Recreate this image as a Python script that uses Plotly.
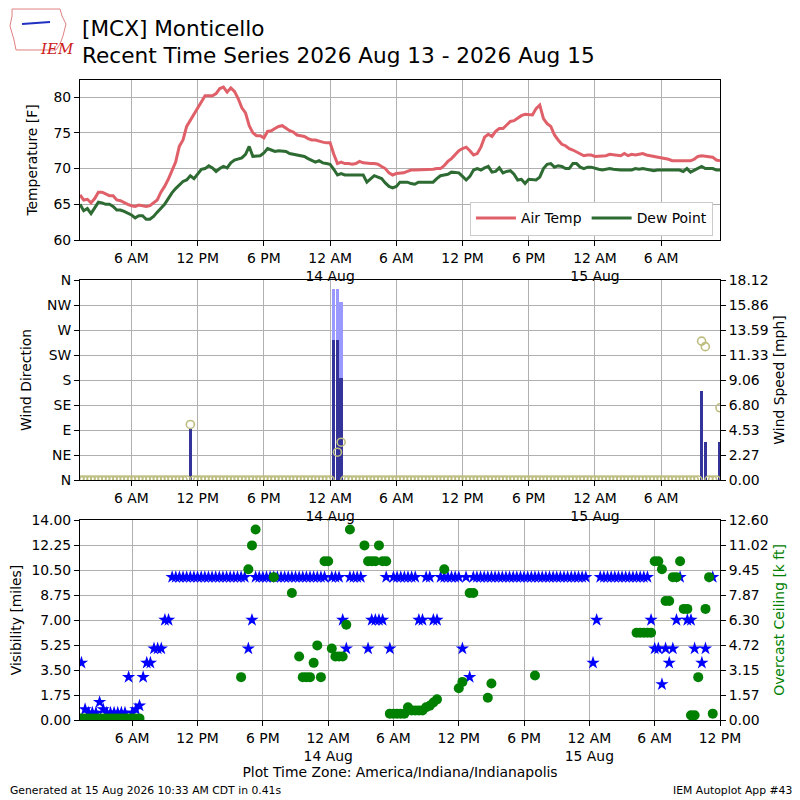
import pandas as pd
import plotly.graph_objects as go

# 观测时间  每20分钟一次
times = pd.date_range("2026-08-13 01:20", "2026-08-15 11:20", freq="20min")

air_temp = [
    66.3, 65.6, 65.7, 65.2, 65.8, 66.7, 66.7, 66.5, 66.2, 66.2,
    65.6, 65.5, 65.2, 65.0, 64.8, 64.7, 64.9, 64.8, 64.7, 64.8,
    65.2, 65.6, 66.7, 67.5, 68.5, 69.7, 70.9, 73.1, 74.0, 75.9,
    76.8, 77.6, 78.4, 79.5, 80.2, 80.2, 80.2, 80.5, 81.2, 81.4,
    80.7, 81.3, 80.8, 79.8, 78.5, 77.8, 76.0, 75.0, 74.6, 74.6,
    74.3, 75.2, 75.3, 75.6, 75.9, 76.0, 75.6, 75.3, 75.1, 74.7,
    74.6, 74.5, 74.2, 74.0, 74.0, 73.8, 73.7, 73.6, 73.6, 72.0,
    70.7, 70.9, 70.7, 70.7, 70.6, 70.7, 71.0, 70.8, 70.7, 70.7,
    70.7, 70.6, 70.3, 70.0, 69.4, 69.1, 69.3, 69.3, 69.4, 69.6,
    69.8, 69.8, 69.8, 69.8, 69.8, 69.8, 69.9, 70.0, 70.0, 70.4,
    71.0, 71.4, 72.0, 72.5, 72.8, 73.0, 72.5, 71.9, 72.1, 73.0,
    74.4, 74.8, 74.5, 75.2, 75.6, 75.6, 76.1, 76.6, 76.7, 77.1,
    77.4, 77.6, 77.6, 77.5, 78.4, 78.9, 77.0, 76.3, 75.9, 74.7,
    74.0, 73.4, 73.2, 72.8, 72.6, 72.3, 72.0, 71.8, 71.9, 71.9,
    71.7, 71.7, 71.7, 71.8, 72.0, 71.9, 71.9, 71.8, 72.1, 71.8,
    72.0, 71.9, 72.0, 72.1, 71.9, 71.8, 71.8, 71.6, 71.5, 71.4,
    71.3, 71.1, 71.1, 71.1, 71.1, 71.1, 71.1, 71.3, 71.7, 71.8,
    71.7, 71.7, 71.6, 71.2, 71.1,
]

dew_point = [
    65.0, 64.1, 64.4, 63.7, 64.5, 65.3, 65.2, 65.0, 65.0, 64.7,
    64.2, 64.2, 64.0, 63.8, 63.5, 63.1, 63.4, 63.4, 62.9, 62.9,
    63.3, 63.9, 64.5, 65.0, 65.8, 66.6, 67.2, 67.7, 68.2, 68.4,
    69.0, 68.6, 69.3, 69.9, 70.0, 70.4, 70.1, 69.6, 70.0, 70.3,
    70.1, 70.8, 71.2, 71.3, 71.5, 72.0, 73.1, 71.7, 71.7, 71.8,
    72.2, 72.8, 72.6, 72.4, 72.5, 72.5, 72.4, 72.1, 72.0, 71.8,
    71.8, 71.7, 71.4, 71.1, 70.9, 71.1, 70.8, 70.7, 70.6, 69.9,
    69.1, 69.3, 69.1, 69.1, 69.1, 69.1, 69.1, 69.1, 68.1, 68.6,
    69.0, 68.8, 68.6, 68.0, 67.5, 67.3, 67.5, 68.1, 68.1, 68.1,
    67.9, 67.8, 68.1, 68.1, 68.1, 68.1, 68.1, 68.6, 69.0, 69.1,
    69.2, 69.5, 69.5, 69.4, 68.9, 68.4, 68.9, 69.8, 70.0, 69.8,
    70.1, 70.3, 69.5, 69.6, 70.1, 69.4, 69.6, 69.7, 69.2, 68.4,
    68.5, 67.9, 68.5, 68.4, 68.4, 68.8, 70.0, 70.6, 70.7, 70.2,
    70.4, 70.3, 70.0, 70.0, 70.7, 70.7, 70.2, 70.0, 70.2, 70.2,
    70.0, 69.9, 69.8, 69.9, 70.0, 69.9, 69.8, 69.8, 69.8, 69.8,
    69.8, 70.0, 69.9, 70.0, 69.9, 69.8, 69.7, 69.8, 69.8, 69.8,
    69.8, 69.8, 69.8, 69.8, 69.6, 70.0, 69.5, 69.8, 70.1, 70.3,
    70.0, 70.0, 70.0, 69.8, 69.8,
]

# 风向 (度)  0 = 静风
wind_drct = [0] * 30 + [100] + [0] * 38 + [None, 50, 68] + [0] * 97 + [250, 240] + [0] * 3 + [130]
# 风速 / 阵风 (mph)
wind_speed = [0] * 30 + [4.6] + [0] * 38 + [12.66, 12.66, 9.21] + [0] * 97 + [8.06, 3.45] + [0] * 3 + [3.45]
wind_gust = [None] * 69 + [17.26, 17.26, 16.11] + [None] * 103

# 能见度 (miles)
visibility = (
    [4, 0.75, 0.5, 0.5, 0.5, 1.25, 0.75] + [0.5] * 6
    + [3, 0.5, 0.75, 1.0, 3, 4, 4, 5, 5, 5, 7, 7]
    + [10] * 21 + [5, 7] + [10] * 20
    + [None, 10, 10, 10, 7, 5, 10, 10, 10, 10, None, 5, 7, 7, 7, 7, 10, 5]
    + [10] * 7 + [7, 7, 10, 10, 7, 7] + [10] * 6 + [5, 10, 3]
    + [10] * 32 + [None, 4, 7] + [10] * 14
    + [7, 5, 5, 2.5, 5, 4, 5, 7, 10, None, 7, 7, 5, None, 4, 5, None, 10]
)

# 阴天云底高 (k ft)
ceiling = (
    [0.1] * 17 + [None] * 27 + [2.7, None, 9.5, 11.0, 12.0] + [None] * 4
    + [9.0] + [None] * 4 + [8.0, None]
    + [4.0, 2.7, 2.7, 2.7, 3.6, 4.7, 2.7, 10.0, 10.0, 4.5, 4.0, 4.0, 4.0, 6.0, 12.0]
    + [None] * 3 + [11.0, 10.0, 10.0, 10.0, 11.0, 10.0, 10.0]
    + [0.4] * 5 + [0.8, 0.6, 0.6, 0.6, 0.6, 0.8, 0.9, 1.1, 1.3]
    + [None, 9.5, None, None, None, 2.0, 2.4, None, 8.0, 8.0, None, None, None, 1.4, 2.3]
    + [None] * 11 + [2.8] + [None] * 27 + [5.5] * 5
    + [10.0, 10.0, 9.5, 7.5, 7.5, 9.0, 9.0, 10.0, 7.0, 7.0, 0.3, 0.3, 2.7, None, 7.0, 9.0, 0.4]
)

tick_times = ["2026-08-13 06:00", "2026-08-13 12:00", "2026-08-13 18:00", "2026-08-14 00:00",
              "2026-08-14 06:00", "2026-08-14 12:00", "2026-08-14 18:00", "2026-08-15 00:00",
              "2026-08-15 06:00", "2026-08-15 12:00"]
tick_labels = ["6 AM", "12 PM", "6 PM", "12 AM<br>14 Aug", "6 AM", "12 PM", "6 PM",
               "12 AM<br>15 Aug", "6 AM", "12 PM"]
drct_labels = ["N", "NE", "E", "SE", "S", "SW", "W", "NW", "N"]
speed_labels = ["0.00", "2.27", "4.53", "6.80", "9.06", "11.33", "13.59", "15.86", "18.12"]
vis_labels = ["0.00", "1.75", "3.50", "5.25", "7.00", "8.75", "10.50", "12.25", "14.00"]
ceil_labels = ["0.00", "1.57", "3.15", "4.72", "6.30", "7.87", "9.45", "11.02", "12.60"]

FONT = "DejaVu Sans"
GRID = "#b0b0b0"
FS = 13.9

fig = go.Figure()

# 温度 / 露点
fig.add_trace(go.Scatter(x=times, y=air_temp, mode="lines", name="Air Temp",
                         line=dict(color="#e0606a", width=3), xaxis="x", yaxis="y"))
fig.add_trace(go.Scatter(x=times, y=dew_point, mode="lines", name="Dew Point",
                         line=dict(color="#2e6b33", width=3), xaxis="x", yaxis="y"))

# 风速柱状图 + 风向
bar_w = 18 * 60 * 1000
fig.add_trace(go.Bar(x=times, y=wind_gust, width=bar_w, marker=dict(color="#9999ff", line_width=0),
                     showlegend=False, xaxis="x2", yaxis="y2"))
fig.add_trace(go.Bar(x=times, y=wind_speed, width=bar_w, marker=dict(color="#333399", line_width=0),
                     showlegend=False, xaxis="x2", yaxis="y2"))
fig.add_trace(go.Scatter(x=times, y=wind_drct, mode="markers", showlegend=False,
                         marker=dict(symbol="circle-open", size=8, color="#bdbd80", line=dict(width=1.6)),
                         xaxis="x2", yaxis="y3", cliponaxis=True))

# 能见度 + 云底高
fig.add_trace(go.Scatter(x=times, y=visibility, mode="markers", showlegend=False,
                         marker=dict(symbol="star", size=10, color="#0000ff"),
                         xaxis="x3", yaxis="y4"))
fig.add_trace(go.Scatter(x=times, y=ceiling, mode="markers", showlegend=False,
                         marker=dict(symbol="circle", size=10, color="#008000"),
                         xaxis="x3", yaxis="y5"))

axis_common = dict(showline=True, linecolor="black", linewidth=1, mirror=True,
                   ticks="outside", ticklen=5, tickcolor="black",
                   tickfont=dict(size=FS, color="black"), zeroline=False)

xa = dict(axis_common, type="date", showgrid=True, gridcolor=GRID,
          tickvals=tick_times[:9], ticktext=tick_labels[:9],
          range=["2026-08-13 01:20", "2026-08-15 11:20"])

fig.update_layout(
    width=800, height=800,
    margin=dict(l=80, r=80, t=80, b=80),
    paper_bgcolor="white", plot_bgcolor="white",
    font=dict(family=FONT, size=FS, color="black"),
    barmode="overlay", bargap=0,
    xaxis=dict(xa, anchor="y", domain=[0, 1]),
    yaxis=dict(axis_common, domain=[0.75, 1], anchor="x", range=[60, 82.4],
               tickvals=[60, 65, 70, 75, 80], showgrid=True, gridcolor=GRID,
               title=dict(text="Temperature [F]", font=dict(size=FS), standoff=12)),
    xaxis2=dict(xa, anchor="y2", domain=[0, 1]),
    yaxis2=dict(axis_common, domain=[0.375, 0.6875], anchor="x2", side="right", mirror=False,
                range=[0, 18.12], tickvals=[18.12 * k / 8 for k in range(9)], ticktext=speed_labels,
                showgrid=True, gridcolor=GRID,
                title=dict(text="Wind Speed [mph]", font=dict(size=FS), standoff=6)),
    yaxis3=dict(axis_common, overlaying="y2", anchor="x2", side="left", mirror=False,
                range=[0, 360], tickvals=[45 * k for k in range(9)], ticktext=drct_labels,
                showgrid=False,
                title=dict(text="Wind Direction", font=dict(size=FS), standoff=12)),
    xaxis3=dict(xa, anchor="y4", domain=[0, 1],
                tickvals=tick_times, ticktext=tick_labels,
                range=["2026-08-13 01:12", "2026-08-15 12:00"],
                title=dict(text="Plot Time Zone: America/Indiana/Indianapolis", font=dict(size=FS), standoff=4)),
    yaxis4=dict(axis_common, domain=[0, 0.3125], anchor="x3", side="left", mirror=False,
                range=[0, 14], tickvals=[1.75 * k for k in range(9)], ticktext=vis_labels,
                showgrid=True, gridcolor=GRID,
                title=dict(text="Visibility [miles]", font=dict(size=FS), standoff=6)),
    yaxis5=dict(axis_common, overlaying="y4", anchor="x3", side="right", mirror=False,
                range=[0, 12.6], tickvals=[1.575 * k for k in range(9)], ticktext=ceil_labels,
                showgrid=False,
                title=dict(text="Overcast Ceiling [k ft]", font=dict(size=FS, color="#008000"), standoff=6)),
    legend=dict(x=0.989, y=0.757, xanchor="right", yanchor="bottom", orientation="h",
                bgcolor="white", bordercolor="#cccccc", borderwidth=1, font=dict(size=FS),
                itemwidth=40),
)

# 标题
fig.add_annotation(text="[MCX] Monticello", xref="paper", yref="paper", x=0, y=1.081,
                   xanchor="left", yanchor="middle", showarrow=False, font=dict(size=21.6))
fig.add_annotation(text="Recent Time Series 2026 Aug 13 - 2026 Aug 15", xref="paper", yref="paper",
                   x=0, y=1.0375, xanchor="left", yanchor="middle", showarrow=False, font=dict(size=21.6))

# IEM 标志
logo = [(12, 9), (60, 9), (62, 16), (66, 24), (63, 36), (60, 44), (56, 50), (16, 50), (14, 40), (10, 26), (12, 16)]
path = "M " + " L ".join(f"{(px - 80) / 640:.4f},{(720 - py) / 640:.4f}" for px, py in logo) + " Z"
fig.add_shape(type="path", path=path, xref="paper", yref="paper", line=dict(color="#e08080", width=1))
fig.add_shape(type="line", xref="paper", yref="paper", x0=(22 - 80) / 640, y0=(720 - 24) / 640,
              x1=(50 - 80) / 640, y1=(720 - 22) / 640, line=dict(color="#2030c0", width=2))
fig.add_annotation(text="<i>IEM</i>", xref="paper", yref="paper", x=(38 - 80) / 640, y=(720 - 38) / 640,
                   showarrow=False, font=dict(family="DejaVu Serif", size=15, color="#cc2020"))

# 页脚
fig.add_annotation(text="Generated at 15 Aug 2026 10:33 AM CDT in 0.41s", xref="paper", yref="paper",
                   x=(8 - 80) / 640, y=(720 - 790) / 640, xanchor="left", yanchor="middle",
                   showarrow=False, font=dict(size=10.8))
fig.add_annotation(text="IEM Autoplot App #43", xref="paper", yref="paper",
                   x=(794 - 80) / 640, y=(720 - 790) / 640, xanchor="right", yanchor="middle",
                   showarrow=False, font=dict(size=10.8))

fig.write_html("out.html", config={"displayModeBar": False},
               post_script="document.body.style.margin='0';")
